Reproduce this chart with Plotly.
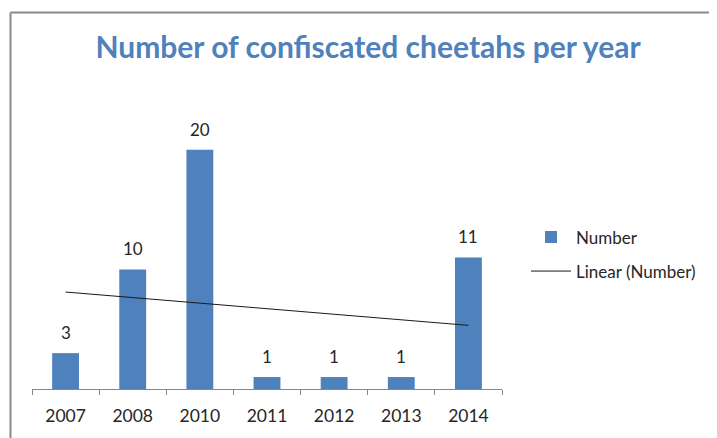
import numpy as np
import plotly.graph_objects as go

years = ["2007", "2008", "2010", "2011", "2012", "2013", "2014"]
counts = [3, 10, 20, 1, 1, 1, 11]

BLUE = "#4F81BD"
FONT = "Lato"
TXT = "#262626"

# linear trend (as Excel "Linear" trendline) over category index 1..n
idx = np.arange(1, len(counts) + 1)
slope, intercept = np.polyfit(idx, counts, 1)
trend = slope * idx + intercept

fig = go.Figure()
fig.add_trace(go.Bar(
    x=years, y=counts, name="Number", legendgroup="a",
    marker=dict(color=BLUE, line=dict(width=0)),
))
fig.add_trace(go.Scatter(
    x=[years[0], years[-1]], y=[trend[0], trend[-1]],
    mode="lines", name="Linear (Number)", legendgroup="b",
    line=dict(color="#1a1a1a", width=1),
))

OFF = 8  # page body margin
W, H = 717 - OFF, 438 - OFF
# plot area in page pixels
PX0, PX1, PY0, PY1 = 32, 502, 90, 395
L = PX0 - OFF
R = W - (PX1 - OFF)
T = PY0 - OFF
B = H - (PY1 - OFF)
pw, ph = PX1 - PX0, PY1 - PY0

def px(xp):
    return (xp - PX0) / pw

def py(yp):
    return (PY1 - yp) / ph

annotations = [
    dict(x=i, y=v, xref="x", yref="y", text=str(v), showarrow=False,
         yanchor="bottom", yshift=8,
         font=dict(family=FONT, size=17, color=TXT))
    for i, v in enumerate(counts)
]

fig.update_layout(
    width=W, height=H,
    margin=dict(l=L, r=R, t=T, b=B),
    paper_bgcolor="white", plot_bgcolor="white",
    bargap=0.6,
    title=dict(text="<b>Number of confiscated cheetahs per year</b>",
               x=px(368), xanchor="center", y=1 - (47 - OFF) / H, yanchor="middle",
               xref="paper", yref="container",
               font=dict(family=FONT, size=30, color=BLUE)),
    xaxis=dict(type="category", range=[-0.5, len(years) - 0.5],
               showgrid=False, showline=True, linecolor="#868686",
               linewidth=1, ticks="outside", tickson="boundaries", ticklen=5,
               tickcolor="#868686", ticklabelstandoff=11, tickangle=0,
               tickfont=dict(family=FONT, size=17.5, color=TXT)),
    yaxis=dict(range=[0, 25], visible=False, showgrid=False, zeroline=False),
    showlegend=True,
    legend=dict(x=px(526), xanchor="left", y=py(222), yanchor="top",
                font=dict(family=FONT, size=17, color=TXT),
                itemwidth=40, tracegroupgap=9, bgcolor="rgba(0,0,0,0)"),
    annotations=annotations,
    shapes=[
        dict(type="line", xref="paper", yref="paper",
             x0=px(10.5), x1=px(740), y0=py(11), y1=py(11),
             line=dict(color="#898989", width=2)),
        dict(type="line", xref="paper", yref="paper",
             x0=px(10.5), x1=px(10.5), y0=py(11), y1=py(460),
             line=dict(color="#898989", width=2)),
    ],
)

fig.write_html("out.html")
